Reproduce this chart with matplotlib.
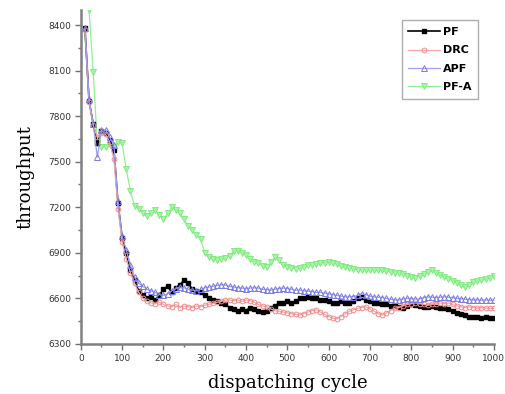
import matplotlib
matplotlib.use("Agg")
import matplotlib.pyplot as plt
from matplotlib.ticker import MultipleLocator

cycles = list(range(10, 1001, 10))

pf = [8380, 7900, 7750, 7620, 7700, 7690, 7640, 7580, 7230, 7000,
      6900, 6790, 6720, 6650, 6620, 6600, 6610, 6590, 6620, 6660,
      6680, 6640, 6670, 6690, 6720, 6700, 6660, 6650, 6640, 6620,
      6600, 6590, 6580, 6570, 6560, 6540, 6530, 6520, 6530, 6520,
      6540, 6530, 6520, 6510, 6520, 6540, 6550, 6570, 6570, 6580,
      6570, 6580, 6600, 6600, 6610, 6600, 6600, 6590, 6590, 6580,
      6570, 6570, 6580, 6570, 6570, 6580, 6600, 6610, 6590, 6580,
      6570, 6570, 6560, 6560, 6550, 6550, 6545, 6540, 6550, 6560,
      6555, 6550, 6545, 6545, 6550, 6545, 6540, 6535, 6530, 6520,
      6505, 6500, 6490, 6480, 6480, 6475, 6470, 6475, 6470, 6470]

drc = [8370, 7890, 7740, 7660, 7690, 7680, 7630, 7520, 7190, 6970,
       6860, 6770, 6700, 6640, 6600, 6580, 6570, 6565, 6575, 6560,
       6550, 6545, 6560, 6540, 6550, 6545, 6540, 6550, 6545, 6555,
       6560, 6570, 6575, 6580, 6590, 6590, 6585, 6590, 6580, 6590,
       6585, 6575, 6560, 6550, 6545, 6530, 6520, 6515, 6510, 6505,
       6500, 6495, 6490, 6500, 6510, 6520, 6525, 6510, 6495, 6480,
       6470, 6465, 6480, 6500, 6515, 6525, 6535, 6540, 6545, 6530,
       6515, 6500, 6490, 6505, 6520, 6535, 6540, 6550, 6560, 6565,
       6570, 6565, 6560, 6555, 6560, 6565, 6570, 6565, 6570, 6560,
       6550, 6545, 6540, 6545, 6540, 6535, 6540, 6535, 6535, 6535]

apf = [8380, 7910, 7750, 7530, 7710, 7710, 7660, 7610, 7240, 7010,
       6920, 6820, 6740, 6700, 6680, 6660, 6650, 6640, 6625, 6620,
       6630, 6650, 6665, 6675, 6670, 6660, 6655, 6650, 6660, 6670,
       6675, 6680, 6685, 6690, 6688, 6680, 6675, 6670, 6668, 6665,
       6668, 6670, 6668, 6660, 6658, 6655, 6660, 6665, 6668, 6665,
       6660, 6655, 6655, 6650, 6648, 6645, 6640, 6640, 6635, 6630,
       6625, 6620, 6615, 6610, 6610, 6612, 6620, 6630, 6625, 6615,
       6610, 6608, 6605, 6600, 6595, 6590, 6590, 6595, 6600, 6598,
       6595, 6598, 6605, 6610, 6608, 6605, 6608, 6610, 6608, 6605,
       6600, 6598, 6595, 6592, 6590, 6590, 6588, 6590, 6588, 6588]

pfa = [8800, 8500, 8090, 7620, 7600, 7600, 7610, 7600, 7630, 7620,
       7450, 7310, 7210, 7190, 7160, 7140, 7160, 7180, 7150, 7120,
       7160, 7200, 7180, 7160, 7120, 7080, 7050, 7020, 6990, 6900,
       6870, 6860, 6850, 6860, 6865, 6880, 6910, 6915, 6900, 6885,
       6860, 6840, 6830, 6815, 6805, 6840, 6870, 6850, 6820, 6810,
       6800, 6795, 6800, 6810, 6820, 6820, 6825, 6830, 6835, 6840,
       6835, 6825, 6815, 6805, 6800, 6795, 6790, 6790, 6788, 6790,
       6788, 6785, 6785, 6780, 6775, 6770, 6765, 6760, 6750, 6740,
       6735, 6745, 6760, 6775, 6785, 6770, 6755, 6740, 6730, 6715,
       6700, 6685, 6675, 6690, 6705, 6715, 6720, 6725, 6735, 6745]

fig = plt.figure(figsize=(5.05, 3.94), dpi=100)
ax = fig.add_axes([0.160, 0.127, 0.818, 0.848])

ax.plot(cycles, pf, color="black", lw=1.2, marker="s", ms=2.6,
        mfc="black", mec="black", label="PF", zorder=2.2)
ax.plot(cycles, drc, color="#f4a8a8", lw=0.9, marker="o", ms=3.4,
        mfc="none", mec="#f08a8a", mew=0.7, label="DRC", zorder=2.4)
ax.plot(cycles, apf, color="#a0a0f4", lw=0.9, marker="^", ms=3.8,
        mfc="none", mec="#7b7be8", mew=0.7, label="APF", zorder=2.6)
ax.plot(cycles, pfa, color="#90f290", lw=0.9, marker="v", ms=3.8,
        mfc="#a4f5a4", mec="#7ae87a", mew=0.6, label="PF-A", zorder=2)

ax.set_xlim(0, 1000)
ax.set_ylim(6300, 8500)
ax.xaxis.set_major_locator(MultipleLocator(100))
ax.xaxis.set_minor_locator(MultipleLocator(50))
ax.yaxis.set_major_locator(MultipleLocator(300))
ax.yaxis.set_minor_locator(MultipleLocator(150))

for side in ("top", "right"):
    ax.spines[side].set_visible(False)
for side in ("left", "bottom"):
    ax.spines[side].set_color("#808080")
    ax.spines[side].set_linewidth(1.8)

ax.tick_params(which="both", direction="out", color="#707070", width=1.0)
ax.tick_params(which="major", length=4, labelsize=6.5, labelcolor="#333333", pad=3)
ax.tick_params(which="minor", length=2.5)

ax.set_xlabel("dispatching cycle", family="DejaVu Serif", fontsize=13,
              labelpad=8)
ax.set_ylabel("throughput", family="DejaVu Serif", fontsize=13, labelpad=10)

leg = ax.legend(loc="upper right", bbox_to_anchor=(0.975, 0.985),
                prop={"weight": "bold", "size": 8}, frameon=True,
                fancybox=False, edgecolor="#999999", handlelength=2.8,
                borderpad=0.6, labelspacing=0.75, handletextpad=0.3)
leg.get_frame().set_linewidth(1.0)

fig.savefig("out.png", dpi=100)
